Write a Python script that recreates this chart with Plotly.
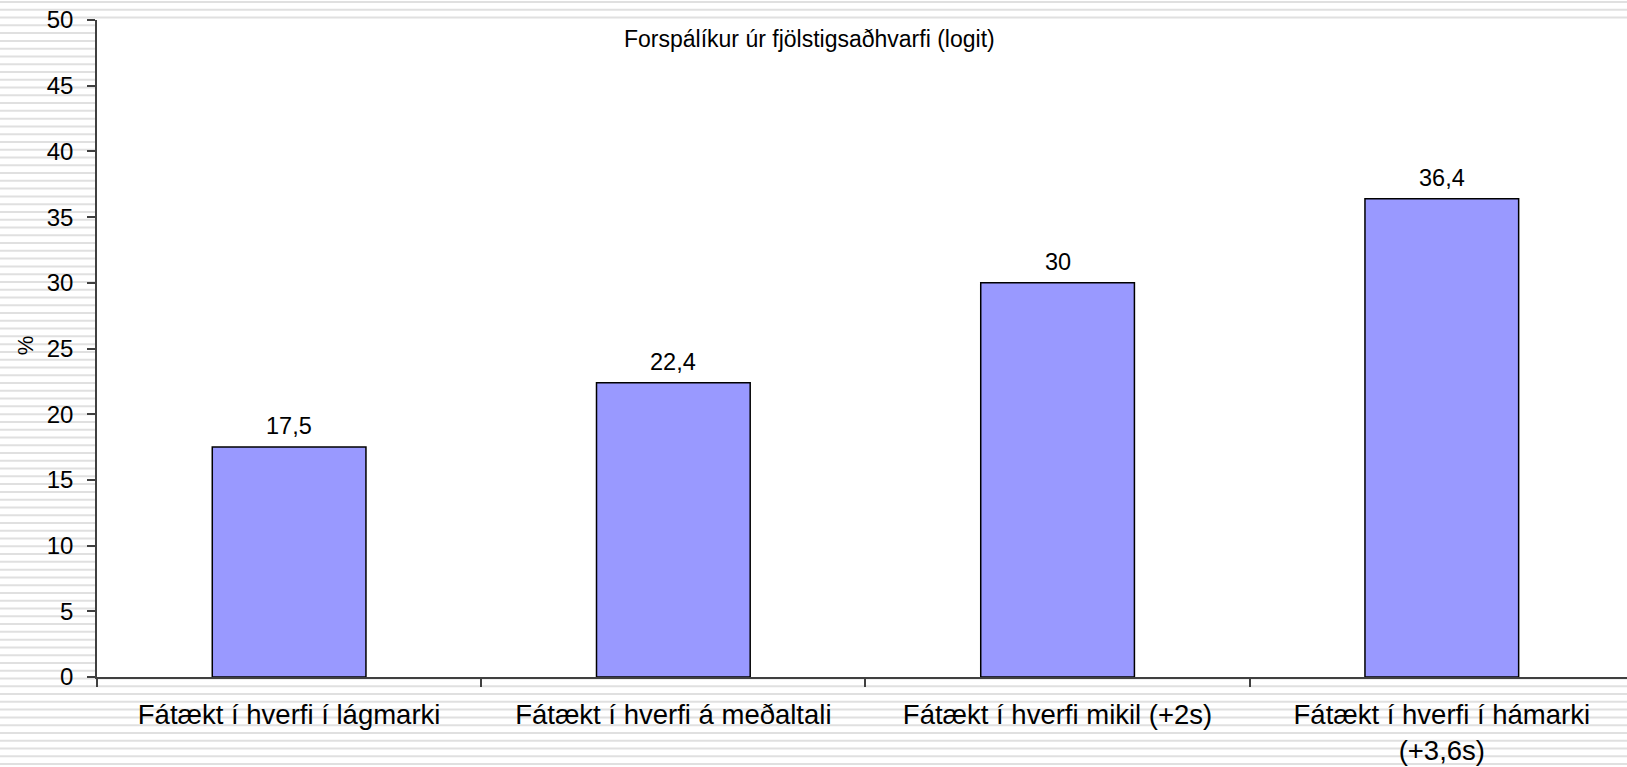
import plotly.graph_objects as go

categories = [
    "Fátækt í hverfi í lágmarki",
    "Fátækt í hverfi á meðaltali",
    "Fátækt í hverfi mikil (+2s)",
    "Fátækt í hverfi í hámarki<br>(+3,6s)",
]
values = [17.5, 22.4, 30, 36.4]
y_ticks = [0, 5, 10, 15, 20, 25, 30, 35, 40, 45, 50]
chart_title = "Forspálíkur úr fjölstigsaðhvarfi (logit)"
y_label = "%"

W, H = 1627, 767
ML, MR, MT, MB = 97, 0, 20, 90
FONT = "Liberation Sans, Arial, sans-serif"


def fmt(v):
    s = ("%g" % v)
    return s.replace(".", ",")


fig = go.Figure()
fig.add_trace(go.Bar(
    x=categories,
    y=values,
    width=0.4,
    marker=dict(color="#9999ff", line=dict(color="#000000", width=1.5)),
    hoverinfo="x+y",
))

# value labels above bars
for c, v in zip(categories, values):
    fig.add_annotation(x=c, y=v, text=fmt(v), showarrow=False,
                       yanchor="bottom", yshift=6,
                       font=dict(family=FONT, size=23.5, color="#000000"))

# chart title inside the plot area
fig.add_annotation(xref="paper", yref="paper", x=0.466, y=0.971,
                   text=chart_title, showarrow=False,
                   xanchor="center", yanchor="middle",
                   font=dict(family=FONT, size=23, color="#000000"))

# y axis title
fig.add_annotation(xref="paper", yref="paper", x=(25 - ML) / (W - ML - MR), y=0.505,
                   text=y_label, showarrow=False, textangle=-90,
                   xanchor="center", yanchor="middle",
                   font=dict(family=FONT, size=22, color="#000000"))

# striped background (decoration outside the plot area)
plot_h = H - MT - MB
plot_w = W - ML - MR
period = 7.776
shapes = []
i = 0
while True:
    ypx = 2 + i * period
    if ypx > H:
        break
    yp = (H - MB - ypx) / plot_h
    shapes.append(dict(type="line", xref="paper", yref="paper",
                       x0=-ML / plot_w - 0.01, x1=1.01, y0=yp, y1=yp,
                       line=dict(color="#e0e0e0", width=2), layer="below"))
    i += 1
# white plot area on top of the stripes
shapes.append(dict(type="rect", xref="paper", yref="paper",
                   x0=0, x1=1.01, y0=0, y1=1,
                   fillcolor="#ffffff", line=dict(width=0), layer="below"))

fig.update_layout(
    width=W, height=H,
    margin=dict(l=ML, r=MR, t=MT, b=MB, pad=0),
    paper_bgcolor="#ffffff",
    plot_bgcolor="#ffffff",
    showlegend=False,
    shapes=shapes,
    font=dict(family=FONT, color="#000000"),
    bargap=0.6,
)

fig.update_xaxes(
    type="category",
    range=[-0.5, 3.482],
    showline=True, linecolor="#404040", linewidth=1.5,
    ticks="outside", tickson="boundaries", ticklen=8, tickcolor="#404040", tickwidth=1.5,
    tickfont=dict(family=FONT, size=27.5, color="#000000"),
    ticklabelstandoff=12,
    showgrid=False, zeroline=False,
)
fig.update_yaxes(
    range=[0, 50],
    tickvals=y_ticks,
    ticktext=[str(t) for t in y_ticks],
    showline=True, linecolor="#404040", linewidth=1.5,
    ticks="outside", ticklen=8, tickcolor="#404040", tickwidth=1.5,
    tickfont=dict(family=FONT, size=24, color="#000000"),
    ticklabelstandoff=9,
    showgrid=False, zeroline=False,
)

fig.write_html("out.html",
               config={"displayModeBar": False},
               post_script="document.body.style.margin='0';document.body.style.overflow='hidden';")
